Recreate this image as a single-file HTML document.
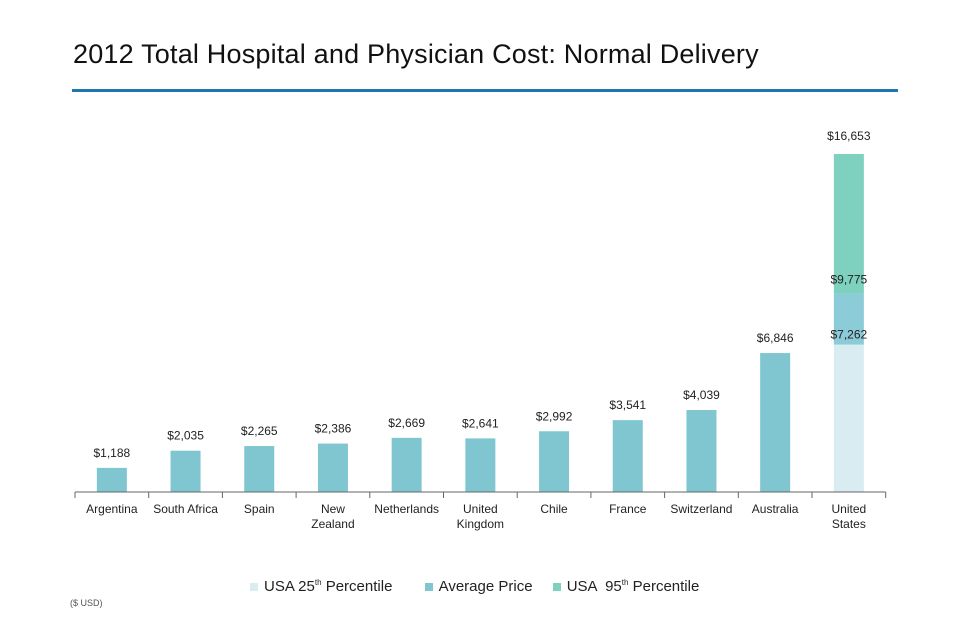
<!DOCTYPE html>
<html><head><meta charset="utf-8"><style>
body{margin:0;width:980px;height:632px;background:#fff;font-family:"Liberation Sans",sans-serif;overflow:hidden;position:relative}
</style></head><body>
<div style="position:absolute;left:73px;top:39px;font-size:27px;color:#111;letter-spacing:0.2px">2012 Total Hospital and Physician Cost: Normal Delivery</div>
<div style="position:absolute;left:72px;top:89px;width:826px;height:3px;background:#1f77ad"></div>
<svg id="c" width="980" height="632" style="position:absolute;left:0;top:0"></svg>
<script>
const categories=["Argentina","South Africa","Spain","New|Zealand","Netherlands","United|Kingdom","Chile","France","Switzerland","Australia","United|States"];
const averagePrice=[1188,2035,2265,2386,2669,2641,2992,3541,4039,6846,null];
const usa25=7262;
const usaAvg=9775;
const usa95=16653;
const NS="http://www.w3.org/2000/svg";
const svg=document.getElementById('c');
const base=492,x0=75,step=73.7,bw=30;
function y(v){return base-v*(338/16653);}
function cx(i){return x0+step*(i+0.5);}
function el(t,a,p){const e=document.createElementNS(NS,t);for(const k in a)e.setAttribute(k,a[k]);(p||svg).appendChild(e);return e;}
function fmt(v){return "$"+v.toLocaleString("en-US");}
function label(x,yy,txt,name){const t=el('text',{x:x,y:yy,'text-anchor':'middle','font-size':12,fill:'#222'});t.textContent=txt;return t;}
categories.forEach((c,i)=>{
  const v=averagePrice[i];
  if(v!=null){
    const r=el('rect',{x:cx(i)-bw/2,y:y(v),width:bw,height:base-y(v),fill:'#80c6d1'});
    
    
    label(cx(i),y(v)-11,fmt(v),'value-label-'+i);
  }
  c.split('|').forEach((ln,j)=>{const t=el('text',{x:cx(i),y:513+j*15,'text-anchor':'middle','font-size':12,fill:'#222'});t.textContent=ln;});
});
const u=categories.length-1;
[[0,usa25,'#d8ecf2','usa-25th-bar'],[usa25,usaAvg,'#8ccbd8','usa-average-bar'],[usaAvg,usa95,'#7ed0bf','usa-95th-bar']].forEach(s=>{
  const r=el('rect',{x:cx(u)-bw/2,y:y(s[1]),width:bw,height:y(s[0])-y(s[1]),fill:s[2]});
  
  
});
label(cx(u),y(usa95)-14,fmt(usa95),'usa-95th-label');
label(cx(u),y(usaAvg)-10,fmt(usaAvg),'usa-average-label');
label(cx(u),y(usa25)-6,fmt(usa25),'usa-25th-label');
const ax=el('line',{x1:x0,y1:base,x2:x0+step*categories.length,y2:base,stroke:'#666','stroke-width':1});


for(let i=0;i<=categories.length;i++){const t=el('line',{x1:x0+step*i,y1:base,x2:x0+step*i,y2:base+6,stroke:'#666'});}
</script>
<div style="position:absolute;left:250px;top:578px;font-size:15px;color:#222;white-space:nowrap">
<span><span style="display:inline-block;width:8px;height:8px;background:#d8ecf2;margin-right:6px"></span>USA 25<sup style="font-size:8px">th</sup> Percentile</span>
<span style="margin-left:28px"><span style="display:inline-block;width:8px;height:8px;background:#80c6d1;margin-right:6px"></span>Average Price</span>
<span style="margin-left:16px"><span style="display:inline-block;width:8px;height:8px;background:#7ed0bf;margin-right:6px"></span>USA &nbsp;95<sup style="font-size:8px">th</sup> Percentile</span>
</div>
<div style="position:absolute;left:70px;top:598px;font-size:9px;color:#555">($ USD)</div>
</body></html>
